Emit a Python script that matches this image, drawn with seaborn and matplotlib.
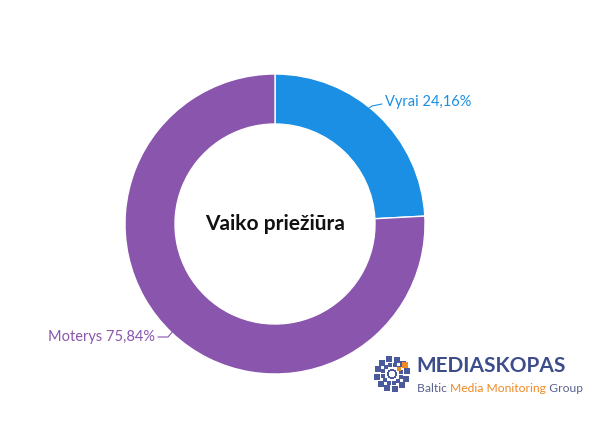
import matplotlib
matplotlib.use("Agg")
import matplotlib.pyplot as plt
import seaborn as sns
import numpy as np

labels = ["Vyrai", "Moterys"]
values = [24.16, 75.84]
colors = ["#1a8fe3", "#8a55ad"]
title = "Vaiko priežiūra"

sns.set_theme(style="white")
plt.rcParams['font.family'] = ['Lato', 'DejaVu Sans']

fig = plt.figure(figsize=(6.04, 4.25), dpi=100)
ax = fig.add_axes([0, 0, 1, 1])
cx, cy, R = 275, 425 - 224, 150
ax.pie(values, colors=colors, startangle=90, counterclock=False, center=(cx, cy), radius=R,
       wedgeprops=dict(width=50, edgecolor='white', linewidth=1), frame=True)
ax.set_xlim(0, 604); ax.set_ylim(0, 425); ax.axis('off')
ax.text(cx, cy, title, ha='center', va='center', fontsize=15, fontweight='bold', color='#111111')

ax.plot([352, 372, 382], [425-120, 425-106, 425-104], color=colors[0], lw=0.8)
ax.text(385, 425-102, f"{labels[0]} {values[0]:.2f}%".replace('.', ','), color=colors[0], fontsize=10.5, va='center')
ax.plot([178, 168, 158], [425-325, 425-337, 425-337], color=colors[1], lw=0.8)
ax.text(155, 425-337, f"{labels[1]} {values[1]:.2f}%".replace('.', ','), color=colors[1], fontsize=10.5, va='center', ha='right')

# logo
lc = '#4a5a9a'
ang = np.linspace(0, 2*np.pi, 12, endpoint=False) + 0.2
for r, s in [(15, 14), (9, 6), (4, 2)]:
    ax.scatter(392 + r*np.cos(ang), 425-374 + r*np.sin(ang), s=s, marker='s', color=lc, linewidths=0)
ax.scatter([405, 399], [425-365, 425-369], s=[22, 8], marker='s', color='#f08a24', linewidths=0)
ax.text(416, 425-366, "MEDIASKOPAS", fontsize=15, color='#3d4d8c', va='center', fontweight='bold')
fig.canvas.draw()
r = fig.canvas.get_renderer()
x = 417
for txt, c in [("Baltic ", '#5a6390'), ("Media Monitoring", '#f08a24'), (" Group", '#5a6390')]:
    t = ax.text(x, 425-388, txt, fontsize=8.7, color=c, va='center')
    x += t.get_window_extent(r).width
fig.savefig("out.png", dpi=100)
